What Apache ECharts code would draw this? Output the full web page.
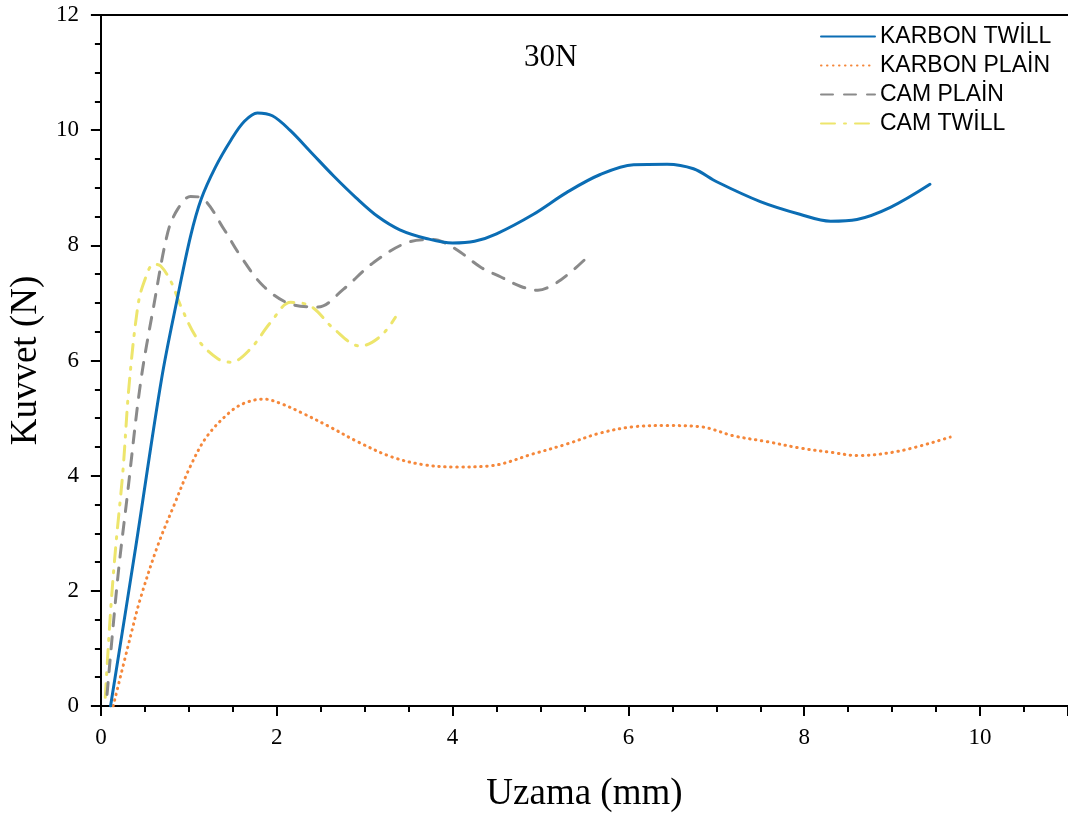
<!DOCTYPE html>
<html>
<head>
<meta charset="utf-8">
<script src="https://cdn.jsdelivr.net/npm/echarts@6/dist/echarts.min.js"></script>
<style>html,body{margin:0;padding:0;background:#fff;}#chart{width:1068px;height:818px;}</style>
</head>
<body>
<div id="chart"></div>
<script>
// ---- data ----
const seriesNames = ['KARBON TWİLL', 'KARBON PLAİN', 'CAM PLAİN', 'CAM TWİLL'];

const karbonTwillX = [0.11, 0.4, 0.69, 0.875, 1.02, 1.14, 1.3, 1.48, 1.63, 1.78, 1.95, 2.15, 2.4, 2.65, 2.9, 3.15, 3.4, 3.7, 4.0, 4.25, 4.5, 4.92, 5.3, 5.68, 6.06, 6.44, 6.74, 7.01, 7.5, 7.95, 8.3, 8.6, 8.98, 9.43];
const karbonTwillY = [0, 2.8, 5.68, 7.12, 8.16, 8.8, 9.35, 9.83, 10.15, 10.3, 10.25, 10.0, 9.6, 9.2, 8.83, 8.5, 8.27, 8.12, 8.04, 8.07, 8.2, 8.54, 8.92, 9.23, 9.4, 9.41, 9.33, 9.1, 8.76, 8.54, 8.42, 8.45, 8.66, 9.06];

const karbonPlainX = [0.14, 0.34, 0.45, 0.65, 0.83, 1.02, 1.21, 1.48, 1.65, 1.85, 2.05, 2.3, 2.6, 2.92, 3.3, 3.67, 4.05, 4.43, 4.92, 5.3, 5.68, 6.06, 6.44, 6.82, 7.2, 7.58, 7.95, 8.33, 8.6, 9.09, 9.66];
const karbonPlainY = [0, 1.23, 1.87, 2.8, 3.48, 4.17, 4.69, 5.12, 5.27, 5.33, 5.25, 5.08, 4.85, 4.59, 4.33, 4.19, 4.15, 4.17, 4.38, 4.55, 4.74, 4.85, 4.87, 4.85, 4.69, 4.59, 4.48, 4.4, 4.35, 4.43, 4.67];

const camPlainX = [0.07, 0.19, 0.3, 0.45, 0.6, 0.76, 0.87, 1.02, 1.17, 1.4, 1.59, 1.85, 2.16, 2.47, 2.76, 3.1, 3.49, 3.78, 3.9, 4.09, 4.32, 4.55, 4.77, 4.97, 5.15, 5.34, 5.53];
const camPlainY = [0.2, 2.2, 3.65, 5.6, 6.94, 8.22, 8.62, 8.85, 8.8, 8.28, 7.81, 7.29, 6.98, 6.93, 7.24, 7.7, 8.05, 8.1, 8.05, 7.88, 7.62, 7.45, 7.29, 7.22, 7.32, 7.53, 7.79];

const camTwillX = [0.05, 0.11, 0.17, 0.25, 0.32, 0.42, 0.49, 0.6, 0.68, 0.8, 0.91, 1.1, 1.33, 1.48, 1.7, 1.93, 2.16, 2.39, 2.65, 2.95, 3.18, 3.35];
const camTwillY = [0.15, 1.64, 2.79, 4.07, 5.56, 6.94, 7.36, 7.67, 7.64, 7.36, 6.94, 6.37, 6.03, 5.97, 6.2, 6.66, 7.01, 6.94, 6.55, 6.25, 6.42, 6.75];

const xTickLabels = ['0', '2', '4', '6', '8', '10'];
const yTickLabels = ['0', '2', '4', '6', '8', '10', '12'];

// ---- build ----
function zip(xs, ys) { return xs.map((x, i) => [x, ys[i]]); }
const serif = 'Liberation Serif';
const sans = 'Liberation Sans';

const chart = echarts.init(document.getElementById('chart'), null, { renderer: 'canvas' });

function mkSeries(name, xs, ys, color, width, type, extra) {
  return Object.assign({
    name: name,
    type: 'line',
    data: zip(xs, ys),
    showSymbol: false,
    symbol: 'none',
    smooth: 0.35,
    lineStyle: { color: color, width: width, type: type, cap: 'round' },
    itemStyle: { color: color },
    emphasis: { disabled: true },
    animation: false
  }, extra || {});
}

const option = {
  backgroundColor: '#ffffff',
  animation: false,
  grid: { left: 100, right: 0, top: 15, bottom: 110, containLabel: false },
  legend: {
    orient: 'vertical',
    left: 815,
    top: 20,
    itemWidth: 54,
    itemHeight: 14,
    itemGap: 6,
    data: seriesNames,
    itemStyle: { opacity: 0, borderWidth: 0 },
    textStyle: { fontFamily: sans, fontSize: 23, color: '#000' }
  },
  graphic: [{
    type: 'text',
    left: 524,
    top: 42,
    style: { text: '30N', font: '31px "Liberation Serif"', fill: '#000' }
  }],
  xAxis: [{
    type: 'value',
    min: 0, max: 11, interval: 2,
    name: 'Uzama (mm)',
    nameLocation: 'middle',
    nameGap: 70,
    nameTextStyle: { fontFamily: serif, fontSize: 37, color: '#000' },
    axisLine: { show: true, onZero: false, lineStyle: { color: '#000', width: 2 } },
    axisTick: { show: true, inside: false, length: 10, lineStyle: { color: '#000', width: 2 } },
    minorTick: { show: true, splitNumber: 4, length: 6, lineStyle: { color: '#000', width: 2 } },
    splitLine: { show: false },
    axisLabel: {
      margin: 20, fontFamily: serif, fontSize: 23, color: '#000', showMaxLabel: false,
      formatter: function (v) { const s = String(v); return xTickLabels.indexOf(s) >= 0 ? s : ''; }
    }
  }, {
    type: 'value',
    position: 'top',
    min: 0, max: 11,
    axisLine: { show: true, onZero: false, lineStyle: { color: '#000', width: 2 } },
    axisTick: { show: false },
    axisLabel: { show: false },
    splitLine: { show: false }
  }],
  yAxis: {
    type: 'value',
    min: 0, max: 12, interval: 2,
    name: 'Kuvvet (N)',
    nameLocation: 'middle',
    nameGap: 52,
    nameRotate: 90,
    nameTextStyle: { fontFamily: serif, fontSize: 37, color: '#000' },
    axisLine: { show: true, onZero: false, lineStyle: { color: '#000', width: 2 } },
    axisTick: { show: true, inside: false, length: 10, lineStyle: { color: '#000', width: 2 } },
    minorTick: { show: true, splitNumber: 4, length: 6, lineStyle: { color: '#000', width: 2 } },
    splitLine: { show: false },
    axisLabel: {
      margin: 22, fontFamily: serif, fontSize: 23, color: '#000',
      formatter: function (v) { const s = String(v); return yTickLabels.indexOf(s) >= 0 ? s : ''; }
    }
  },
  series: [
    mkSeries(seriesNames[0], karbonTwillX, karbonTwillY, '#0b6db4', 3, 'solid', { z: 5 }),
    mkSeries(seriesNames[1], karbonPlainX, karbonPlainY, '#f5873a', 3, [0.5, 5.5], { z: 4 }),
    mkSeries(seriesNames[2], camPlainX, camPlainY, '#8a8a8a', 3, [12, 11], { z: 3 }),
    mkSeries(seriesNames[3], camTwillX, camTwillY, '#ede56c', 3, [14, 9, 2, 9], { z: 2 })
  ]
};
chart.setOption(option);
</script>
</body>
</html>
